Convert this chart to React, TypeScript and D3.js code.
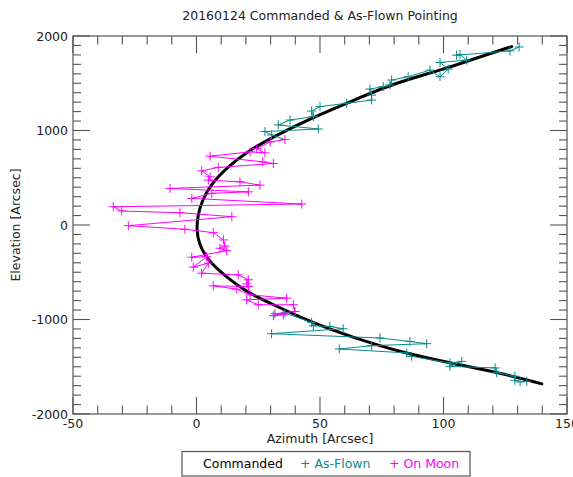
import React from "react";
import * as d3 from "d3";

// Commanded track [azimuth, elevation] in arcsec
const commanded: [number, number][] = [
  [127.6, 1888], [113, 1765], [99.5, 1642], [79.5, 1497], [61, 1290], [46, 1126],
  [31, 932], [20.3, 774], [12.5, 610], [5.5, 422], [2.1, 246], [0.5, 100], [0, -50],
  [1.0, -200], [4.1, -352], [9.5, -493], [16.3, -633], [22, -730], [29.8, -827],
  [46, -1025], [62.1, -1179], [82.4, -1345], [102.6, -1460], [122.9, -1565], [139.8, -1681],
];

// As-flown samples before reaching the Moon
const asFlownUpper: [number, number][] = [
  [130.6, 1884], [126.9, 1842], [105.3, 1797], [106.7, 1805], [109.4, 1745], [98.6, 1720],
  [101.9, 1650], [98.6, 1569], [94.5, 1639], [85.7, 1569], [79.0, 1534], [78.3, 1481],
  [75.6, 1464], [70.2, 1439], [70.9, 1375], [70.9, 1322], [60.8, 1288], [50.0, 1253],
  [46.6, 1206], [47.3, 1147], [37.9, 1111], [33.1, 1059], [49.3, 1016], [27.7, 989],
  [30.4, 953],
];

// Samples flagged as on the Moon
const onMoon: [number, number][] = [
  [35.8, 904], [29.8, 879], [24.4, 809], [27.7, 763], [21.7, 774], [5.5, 728],
  [26.8, 668], [31.1, 651], [8.8, 609], [2.1, 573], [5.5, 510], [4.8, 475],
  [17.6, 457], [25.7, 422], [-10.7, 387], [21.0, 351], [6.2, 335], [-1.9, 282],
  [42.6, 222], [-33.7, 193], [-30.3, 148], [-6.7, 130], [14.3, 88], [-27.6, -7],
  [-4.7, -45], [6.8, -81], [10.9, -158], [11.5, -222], [9.5, -246], [12.2, -271],
  [-1.9, -341], [4.1, -335], [-1.3, -446], [4.8, -404], [2.1, -510], [16.9, -528],
  [21.0, -580], [20.3, -623], [21.0, -651], [6.8, -644], [16.3, -679], [21.7, -739],
  [36.5, -774], [20.3, -792], [25.0, -844], [39.2, -844], [39.9, -915], [31.8, -939],
  [35.1, -950],
];

// As-flown samples after leaving the Moon
const asFlownLower: [number, number][] = [
  [31.1, -960], [35.8, -932], [46.6, -1031], [47.3, -1066], [54.0, -1073], [59.4, -1098],
  [30.4, -1150], [74.3, -1196], [86.4, -1232], [93.2, -1256], [70.9, -1277], [57.8, -1312],
  [85.1, -1354], [87.1, -1390], [102.6, -1460], [107.4, -1443], [102.6, -1496], [120.9, -1512],
  [121.5, -1562], [128.9, -1601], [128.9, -1643], [131.0, -1660], [133.7, -1654],
];

const xMajor = [-50, 0, 50, 100, 150];
const yMajor = [-2000, -1000, 0, 1000, 2000];

const TEAL = "#0a8a8a";
const MAGENTA = "#ff00ff";
const AXIS = "#555";
const FONT = "DejaVu Sans, sans-serif";

export default function App() {
  const W = 573, H = 477;
  const left = 73, right = 567, top = 36, bottom = 414;

  const x = d3.scaleLinear().domain([-50, 150]).range([left, right]);
  const y = d3.scaleLinear().domain([-2000, 2000]).range([bottom, top]);

  const xMinor = d3.range(-50, 151, 10);
  const yMinor = d3.range(-2000, 2001, 100);

  const smooth = d3.line<[number, number]>()
    .x((d) => x(d[0])).y((d) => y(d[1]))
    .curve(d3.curveBasis);
  const poly = d3.line<[number, number]>().x((d) => x(d[0])).y((d) => y(d[1]));

  const plus = (pts: [number, number][], color: string, key: string) =>
    pts.map((d, i) => {
      const px = x(d[0]), py = y(d[1]);
      return (
        <path key={key + i} d={`M${px - 4.5},${py}H${px + 4.5}M${px},${py - 4.5}V${py + 4.5}`}
          stroke={color} strokeWidth={1} fill="none" />
      );
    });

  const upperPath = [...asFlownUpper, onMoon[0]];
  const lowerPath = [onMoon[onMoon.length - 1], ...asFlownLower];

  return (
    <svg width={W} height={H} style={{ position: "absolute", left: 0, top: 0 }}>
      <rect width={W} height={H} fill="#fff" />
      <text x={(left + right) / 2} y={20} textAnchor="middle" fontFamily={FONT} fontSize={12.5} fill="#222">
        20160124 Commanded &amp; As-Flown Pointing
      </text>

      <defs>
        <clipPath id="plotArea">
          <rect x={left} y={top} width={right - left} height={bottom - top} />
        </clipPath>
      </defs>

      <g clipPath="url(#plotArea)">
        <path d={smooth(commanded) ?? ""} stroke="#000" strokeWidth={3} fill="none" strokeLinecap="round" />
        <path d={poly(upperPath) ?? ""} stroke={TEAL} strokeWidth={1} fill="none" />
        <path d={poly(lowerPath) ?? ""} stroke={TEAL} strokeWidth={1} fill="none" />
        <path d={poly(onMoon) ?? ""} stroke={MAGENTA} strokeWidth={1} fill="none" />
        {plus(asFlownUpper, TEAL, "u")}
        {plus(asFlownLower, TEAL, "l")}
        {plus(onMoon, MAGENTA, "m")}
      </g>

      {/* frame and inward ticks */}
      <rect x={left} y={top} width={right - left} height={bottom - top} fill="none" stroke={AXIS} strokeWidth={1.2} />
      {xMinor.map((v) => {
        const len = xMajor.includes(v) ? 17 : 8.5;
        return (
          <g key={"xt" + v} stroke={AXIS} strokeWidth={1.1}>
            <line x1={x(v)} x2={x(v)} y1={bottom} y2={bottom - len} />
            <line x1={x(v)} x2={x(v)} y1={top} y2={top + len} />
          </g>
        );
      })}
      {yMinor.map((v) => {
        const len = yMajor.includes(v) ? 17 : 8;
        return (
          <g key={"yt" + v} stroke={AXIS} strokeWidth={1.1}>
            <line x1={left} x2={left + len} y1={y(v)} y2={y(v)} />
            <line x1={right} x2={right - len} y1={y(v)} y2={y(v)} />
          </g>
        );
      })}

      {xMajor.map((v) => (
        <text key={"xl" + v} x={x(v)} y={bottom + 14} textAnchor="middle" fontFamily={FONT} fontSize={12.5} fill="#222">
          {v}
        </text>
      ))}
      {yMajor.map((v) => (
        <text key={"yl" + v} x={left - 5} y={y(v) + 4.5} textAnchor="end" fontFamily={FONT} fontSize={12.5} fill="#222">
          {v}
        </text>
      ))}

      <text x={(left + right) / 2} y={443} textAnchor="middle" fontFamily={FONT} fontSize={12.5} fill="#222">
        Azimuth [Arcsec]
      </text>
      <text transform={`translate(20,${(top + bottom) / 2}) rotate(-90)`} textAnchor="middle" fontFamily={FONT} fontSize={12.5} fill="#222">
        Elevation [Arcsec]
      </text>

      {/* legend */}
      <rect x={182} y={451.5} width={288} height={24.5} fill="#fff" stroke={AXIS} strokeWidth={1.2} />
      <text x={203} y={468} fontFamily={FONT} fontSize={12.5} fill="#000">Commanded</text>
      <text x={300} y={468} fontFamily={FONT} fontSize={12.5} fill={TEAL}>+ As-Flown</text>
      <text x={389} y={468} fontFamily={FONT} fontSize={12.5} fill={MAGENTA}>+ On Moon</text>
    </svg>
  );
}
